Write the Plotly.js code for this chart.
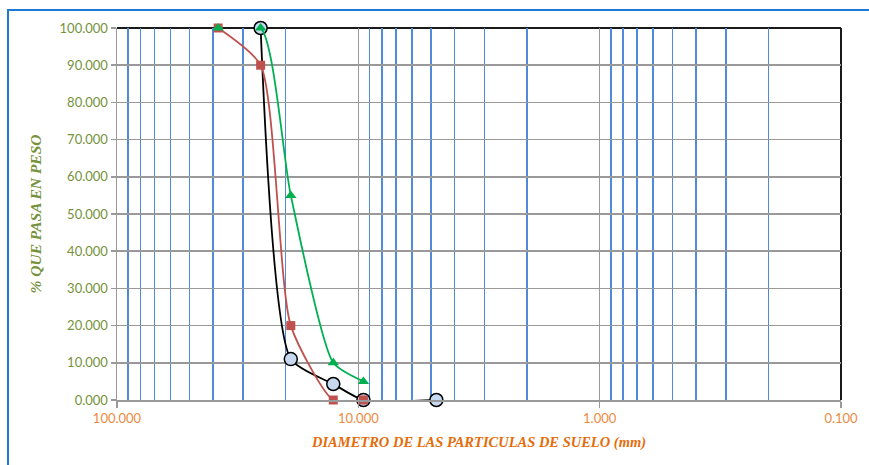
<!DOCTYPE html>
<html>
<head>
<meta charset="utf-8">
<script src="https://cdn.plot.ly/plotly-3.0.1.min.js"></script>
<style>
html,body{margin:0;padding:0;background:#fff;}
#chart{width:869px;height:465px;position:absolute;left:0;top:0;}
#frame{position:absolute;left:7px;top:9px;width:900px;height:500px;border:2px solid #1E7AD3;pointer-events:none;}
</style>
</head>
<body>
<div id="chart"></div>
<div id="frame"></div>
<script>
// Particle diameters (mm) and percent passing
const sizesBlack = [25.4, 19.05, 12.7, 9.525, 4.75];
const passBlack  = [100, 11.0, 4.3, 0, 0];

const sizesRed = [38.1, 25.4, 19.05, 12.7, 9.525];
const passRed  = [100, 90, 20, 0, 0];

const sizesGreen = [38.1, 25.4, 19.05, 12.7, 9.525];
const passGreen  = [100, 100, 55, 10, 5];

const xTitle = 'DIAMETRO DE LAS PARTICULAS DE SUELO (mm)';
const yTitle = '% QUE PASA EN PESO';

const traces = [
  {x: sizesBlack, y: passBlack, type: 'scatter', mode: 'lines+markers',
   line: {color: '#000000', width: 1.8, shape: 'spline', smoothing: 0.6},
   marker: {symbol: 'circle', size: 13, color: '#C6D9F1', line: {color: '#000000', width: 1.5}},
   cliponaxis: false},
  {x: sizesRed, y: passRed, type: 'scatter', mode: 'lines+markers',
   line: {color: '#C0504D', width: 1.8, shape: 'spline', smoothing: 0.6},
   marker: {symbol: 'square', size: 9, color: '#C0504D'},
   cliponaxis: false},
  {x: sizesGreen, y: passGreen, type: 'scatter', mode: 'lines+markers',
   line: {color: '#00B050', width: 1.8, shape: 'spline', smoothing: 0.6},
   marker: {symbol: 'triangle-up', size: 10, color: '#00B050'},
   cliponaxis: false}
];

const layout = {
  width: 869, height: 465,
  margin: {l: 117, r: 28, t: 28, b: 65},
  paper_bgcolor: '#ffffff', plot_bgcolor: '#ffffff',
  showlegend: false,
  xaxis: {
    type: 'log', range: [2, -1], autorange: false, dtick: 1,
    tickformat: '.3f',
    tickfont: {family: 'Lato, "Open Sans", sans-serif', size: 13, color: '#EE8A3E'},
    showgrid: true, gridcolor: '#999999', gridwidth: 1.5,
    minor: {showgrid: true, gridcolor: '#4F8ADB', gridwidth: 1.6, dtick: 'D1', ticks: ''},
    showline: true, linecolor: '#999999', linewidth: 1.5,
    ticks: 'outside', ticklen: 6, tickcolor: '#999999', tickwidth: 1.5,
    zeroline: false,
    title: {text: xTitle, standoff: 12,
      font: {family: '"Liberation Serif", "DejaVu Serif", serif', size: 14.5, color: '#E46C0A', weight: 'bold', style: 'italic'}}
  },
  yaxis: {
    range: [0, 100], autorange: false, dtick: 10,
    tickformat: '.3f',
    tickfont: {family: 'Lato, "Open Sans", sans-serif', size: 13, color: '#76923C'},
    showgrid: true, gridcolor: '#999999', gridwidth: 1.5,
    showline: true, linecolor: '#999999', linewidth: 1.5,
    ticks: 'outside', ticklen: 5, tickcolor: '#999999', tickwidth: 1.5,
    zeroline: false,
    title: {text: yTitle, standoff: 14,
      font: {family: '"Liberation Serif", "DejaVu Serif", serif', size: 15.5, color: '#76923C', weight: 'bold', style: 'italic'}}
  },
  shapes: [
    {type: 'line', xref: 'paper', yref: 'paper', x0: 0, x1: 1, y0: 1, y1: 1,
     line: {color: '#1a1a1a', width: 2}, layer: 'below'},
    {type: 'line', xref: 'paper', yref: 'paper', x0: 1, x1: 1, y0: 0, y1: 1,
     line: {color: '#1a1a1a', width: 2}, layer: 'below'}
  ]
};

Plotly.newPlot('chart', traces, layout, {displayModeBar: false, staticPlot: true});
</script>
</body>
</html>
